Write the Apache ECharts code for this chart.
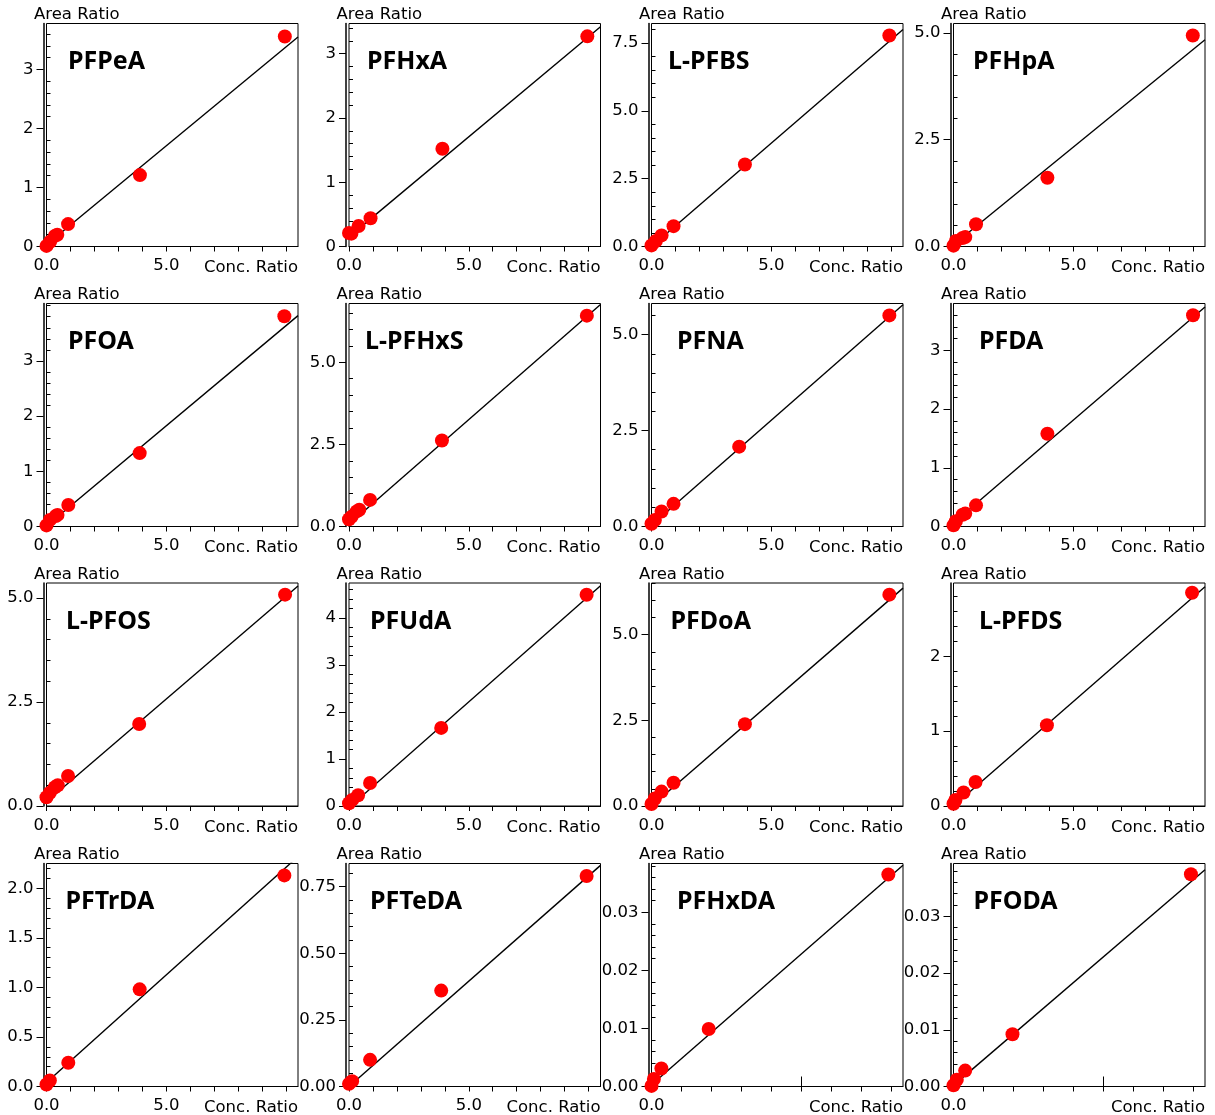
<!DOCTYPE html>
<html>
<head>
<meta charset="utf-8">
<script src="https://cdn.jsdelivr.net/npm/echarts@6/dist/echarts.min.js"></script>
<style>
html,body{margin:0;padding:0;background:#fff;}
#chart{width:1215px;height:1115px;}
</style>
</head>
<body>
<div id="chart"></div>
<script>
// ---------------- DATA ----------------
const compounds = ['PFPeA','PFHxA','L-PFBS','PFHpA','PFOA','L-PFHxS','PFNA','PFDA',
                   'L-PFOS','PFUdA','PFDoA','L-PFDS','PFTrDA','PFTeDA','PFHxDA','PFODA'];

// concentration ratio (x) and area ratio (y) per compound
const PFPeA_x   = [0, 0.15, 0.35, 0.45, 0.9, 3.9, 9.95];
const PFPeA_y   = [0.01, 0.08, 0.18, 0.20, 0.38, 1.21, 3.56];
const PFHxA_x   = [0, 0.1, 0.4, 0.9, 3.9, 9.95];
const PFHxA_y   = [0.21, 0.20, 0.32, 0.44, 1.52, 3.27];
const L_PFBS_x  = [0, 0.18, 0.42, 0.92, 3.9, 9.93];
const L_PFBS_y  = [0.04, 0.20, 0.41, 0.75, 3.02, 7.78];
const PFHpA_x   = [0, 0.1, 0.38, 0.49, 0.94, 3.92, 9.99];
const PFHpA_y   = [0.02, 0.13, 0.20, 0.22, 0.52, 1.61, 4.94];
const PFOA_x    = [0, 0.14, 0.39, 0.46, 0.91, 3.89, 9.93];
const PFOA_y    = [0.02, 0.12, 0.19, 0.21, 0.39, 1.33, 3.81];
const L_PFHxS_x = [0, 0.11, 0.32, 0.43, 0.88, 3.88, 9.93];
const L_PFHxS_y = [0.22, 0.30, 0.46, 0.51, 0.81, 2.62, 6.42];
const PFNA_x    = [0, 0.14, 0.42, 0.92, 3.66, 9.93];
const PFNA_y    = [0.07, 0.17, 0.39, 0.59, 2.08, 5.50];
const PFDA_x    = [0, 0.1, 0.38, 0.49, 0.94, 3.92, 10.0];
const PFDA_y    = [0.02, 0.09, 0.20, 0.22, 0.36, 1.58, 3.60];
const L_PFOS_x  = [0, 0.14, 0.35, 0.47, 0.9, 3.87, 9.96];
const L_PFOS_y  = [0.21, 0.32, 0.45, 0.50, 0.72, 1.97, 5.08];
const PFUdA_x   = [0, 0.13, 0.38, 0.88, 3.85, 9.92];
const PFUdA_y   = [0.06, 0.13, 0.23, 0.49, 1.66, 4.49];
const PFDoA_x   = [0, 0.14, 0.42, 0.92, 3.9, 9.93];
const PFDoA_y   = [0.06, 0.22, 0.42, 0.68, 2.39, 6.17];
const L_PFDS_x  = [0, 0.08, 0.42, 0.92, 3.9, 9.96];
const L_PFDS_y  = [0.03, 0.08, 0.18, 0.32, 1.08, 2.85];
const PFTrDA_x  = [0, 0.14, 0.91, 3.89, 9.93];
const PFTrDA_y  = [0.02, 0.06, 0.24, 0.98, 2.13];
const PFTeDA_x  = [0, 0.13, 0.88, 3.85, 9.92];
const PFTeDA_y  = [0.01, 0.02, 0.10, 0.36, 0.79];
const PFHxDA_x  = [0, 0.08, 0.33, 1.91, 7.91];
const PFHxDA_y  = [0.0001, 0.0013, 0.0031, 0.0099, 0.0365];
const PFODA_x   = [0, 0.11, 0.39, 1.97, 7.93];
const PFODA_y   = [0.0002, 0.0012, 0.0028, 0.0092, 0.0374];

// calibration line end points [x0, y0, x1, y1]
const fitLines = [
  [0, 0.03, 10.5, 3.55], [0, 0.15, 10.5, 3.42], [0, 0.0, 10.5, 8.0],  [0, 0.04, 10.5, 4.84],
  [0, 0.01, 10.5, 3.82], [0, 0.07, 10.5, 6.76], [0, 0.03, 10.5, 5.78], [0, 0.06, 10.5, 3.74],
  [0, 0.10, 10.5, 5.29], [0, -0.03, 10.5, 4.68], [0, 0.0, 10.5, 6.36], [0, 0.0, 10.5, 2.93],
  [0, 0.04, 10.5, 2.32], [0, 0.0, 10.5, 0.83], [0, 0.0003, 8.4, 0.0381], [0, 0.0002, 8.4, 0.0382]
];

// axis ranges and tick labels
const yMax = [3.78, 3.47, 8.22, 5.22, 4.04, 6.79, 5.81, 3.80, 5.36, 4.74, 6.51, 2.98, 2.25, 0.837, 0.0384, 0.0393];
const yTickLabels = [
  ['0','1','2','3'], ['0','1','2','3'], ['0.0','2.5','5.0','7.5'], ['0.0','2.5','5.0'],
  ['0','1','2','3'], ['0.0','2.5','5.0'], ['0.0','2.5','5.0'], ['0','1','2','3'],
  ['0.0','2.5','5.0'], ['0','1','2','3','4'], ['0.0','2.5','5.0'], ['0','1','2'],
  ['0.0','0.5','1.0','1.5','2.0'], ['0.00','0.25','0.50','0.75'], ['0.00','0.01','0.02','0.03'], ['0.00','0.01','0.02','0.03']
];
const yMinorStep = [0.2, 0.2, 0.5, 0.5, 0.2, 0.5, 0.5, 0.2, 0.5, 0.2, 0.5, 0.2, 0.1, 0.05, 0.002, 0.002];
const xMax = [10.5,10.5,10.5,10.5,10.5,10.5,10.5,10.5,10.5,10.5,10.5,10.5,10.5,10.5,8.4,8.4];
const xTickLabels = [
  ['0.0','5.0'],['0.0','5.0'],['0.0','5.0'],['0.0','5.0'],
  ['0.0','5.0'],['0.0','5.0'],['0.0','5.0'],['0.0','5.0'],
  ['0.0','5.0'],['0.0','5.0'],['0.0','5.0'],['0.0','5.0'],
  ['0.0','5.0'],['0.0','5.0'],['0.0'],['0.0']
];
const xLongTicks = [[],[],[],[],[],[],[],[],[],[],[],[],[],[],[5],[5]];

const seriesX = [PFPeA_x, PFHxA_x, L_PFBS_x, PFHpA_x, PFOA_x, L_PFHxS_x, PFNA_x, PFDA_x,
                 L_PFOS_x, PFUdA_x, PFDoA_x, L_PFDS_x, PFTrDA_x, PFTeDA_x, PFHxDA_x, PFODA_x];
const seriesY = [PFPeA_y, PFHxA_y, L_PFBS_y, PFHpA_y, PFOA_y, L_PFHxS_y, PFNA_y, PFDA_y,
                 L_PFOS_y, PFUdA_y, PFDoA_y, L_PFDS_y, PFTrDA_y, PFTeDA_y, PFHxDA_y, PFODA_y];

// ---------------- LAYOUT ----------------
const colLeft = [46.5, 349, 651.5, 953.5];
const rowTop = [23.5, 303.5, 583, 863.5];
const gridW = 251.5, gridH = 223;
const titleDx = [21.5, 18, 16.5, 19.5, 21.5, 16, 25.5, 25.5, 19.5, 21, 19, 25.5, 19, 21, 25.5, 20];
const FONT = 'DejaVu Sans';
const W = 1215;

const grids = [], xAxes = [], yAxes = [], series = [], titles = [];

compounds.forEach((name, i) => {
  const c = i % 4, r = Math.floor(i / 4);
  const L = colLeft[c], T = rowTop[r];
  grids.push({left: L, top: T, width: gridW, height: gridH, show: true,
              borderColor: '#000', borderWidth: 1, backgroundColor: 'transparent'});

  // x axes
  const xTicks = [];
  for (let k = 0; k <= Math.floor(xMax[i]); k++) xTicks.push(k);
  const xLabVals = xTickLabels[i].map(parseFloat);
  const xMainIdx = xAxes.length;
  xAxes.push({
    gridIndex: i, type: 'value', min: 0, max: xMax[i],
    axisLine: {show: true, onZero: false, lineStyle: {color: '#000', width: 1}},
    splitLine: {show: false},
    axisTick: {show: true, customValues: xTicks, length: 5, inside: false, lineStyle: {color: '#000'}},
    axisLabel: {show: true, customValues: xLabVals, margin: 11, color: '#000',
                fontFamily: FONT, fontSize: 16.5,
                formatter: v => xTickLabels[i][xLabVals.findIndex(q => Math.abs(q - v) < 1e-9)] || ''}
  });
  if (xLongTicks[i].length) {
    xAxes.push({
      gridIndex: i, type: 'value', min: 0, max: xMax[i],
      axisLine: {show: false}, splitLine: {show: false},
      axisTick: {show: true, customValues: xLongTicks[i], length: 10, lineStyle: {color: '#000'}},
      axisLabel: {show: false}
    });
  }

  // y axes
  const yLabVals = yTickLabels[i].map(parseFloat);
  const step = yMinorStep[i];
  const minors = [];
  const nMin = Math.floor(yMax[i] / step + 1e-6);
  for (let k = 1; k <= nMin; k++) {
    const v = +(k * step).toPrecision(10);
    if (!yLabVals.some(q => Math.abs(q - v) < step * 1e-3)) minors.push(v);
  }
  const yMainIdx = yAxes.length;
  yAxes.push({
    gridIndex: i, type: 'value', min: 0, max: yMax[i], offset: 3,
    axisLine: {show: true, onZero: false, lineStyle: {color: '#000', width: 1.5}},
    splitLine: {show: false},
    axisTick: {show: true, customValues: yLabVals, length: 7, lineStyle: {color: '#000'}},
    axisLabel: {show: true, customValues: yLabVals, margin: 10, color: '#000',
                fontFamily: FONT, fontSize: 16.5,
                formatter: v => yTickLabels[i][yLabVals.findIndex(q => Math.abs(q - v) < 1e-12)] || ''}
  });
  yAxes.push({
    gridIndex: i, type: 'value', min: 0, max: yMax[i], offset: 3,
    axisLine: {show: false}, splitLine: {show: false},
    axisTick: {show: true, customValues: minors, length: 4, lineStyle: {color: '#000'}},
    axisLabel: {show: false}
  });

  const f = fitLines[i];
  series.push({
    type: 'line', xAxisIndex: xMainIdx, yAxisIndex: yMainIdx,
    data: [[f[0], f[1]], [f[2], f[3]]], symbol: 'none', clip: true, silent: true,
    lineStyle: {color: '#000', width: 1.4}, z: 2
  });
  series.push({
    type: 'scatter', xAxisIndex: xMainIdx, yAxisIndex: yMainIdx,
    data: seriesX[i].map((x, k) => [x, seriesY[i][k]]),
    symbol: 'circle', symbolSize: 14, clip: false,
    itemStyle: {color: '#ff0000', opacity: 1}, z: 3
  });

  titles.push({text: name, left: L + titleDx[i], top: T + 23.5, padding: 0,
               textStyle: {fontFamily: 'Noto Sans', fontWeight: 'bold', fontSize: 25, color: '#000', lineHeight: 30}});
  titles.push({text: 'Area Ratio', left: L - 12.5, top: T - 17, padding: 0,
               textStyle: {fontFamily: FONT, fontWeight: 'normal', fontSize: 16.5, color: '#000', lineHeight: 17}});
  titles.push({text: 'Conc. Ratio', right: W - (L + gridW), top: T + gridH + 13, padding: 0,
               textStyle: {fontFamily: FONT, fontWeight: 'normal', fontSize: 16.5, color: '#000', lineHeight: 17}});
});

const chart = echarts.init(document.getElementById('chart'), null, {renderer: 'canvas'});
chart.setOption({
  animation: false,
  backgroundColor: '#fff',
  title: titles,
  grid: grids,
  xAxis: xAxes,
  yAxis: yAxes,
  series: series
});
</script>
</body>
</html>
